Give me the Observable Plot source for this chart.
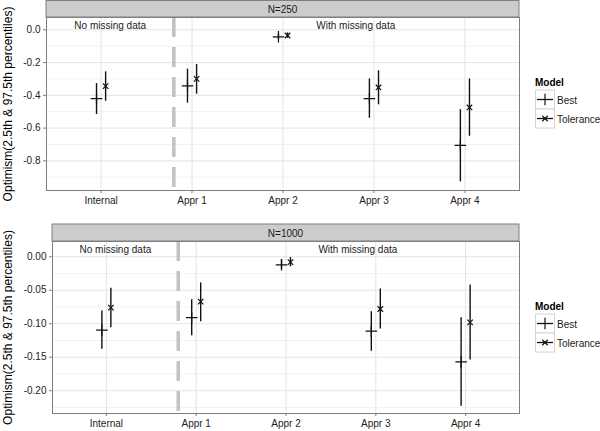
<!DOCTYPE html>
<html><head><meta charset="utf-8">
<script src="https://cdn.jsdelivr.net/npm/d3@7"></script>
<script src="https://cdn.jsdelivr.net/npm/@observablehq/plot@0.6"></script>
<style>
body{margin:0;background:#fff;font-family:"Liberation Sans",Arial,sans-serif;}
#chart{position:relative;width:600px;height:431px;overflow:hidden;}
#chart > svg{position:absolute;left:0;}
</style></head><body><div id="chart"></div>
<script>
// ---- data ----
const categories = ["Internal", "Appr 1", "Appr 2", "Appr 3", "Appr 4"];
const models = ["Best", "Tolerance"];
const yTitle = "Optimism(2.5th & 97.5th percentiles)";
const noteLabels = ["No missing data", "With missing data"];
const noteX = [1.1, 3.8];

const n250BestEst = [-0.420, -0.342, -0.043, -0.420, -0.706];
const n250BestLo  = [-0.517, -0.448, -0.061, -0.540, -0.928];
const n250BestHi  = [-0.328, -0.240, -0.025, -0.300, -0.487];
const n250TolEst  = [-0.344, -0.300, -0.035, -0.352, -0.474];
const n250TolLo   = [-0.436, -0.393, -0.052, -0.458, -0.650];
const n250TolHi   = [-0.257, -0.212, -0.019, -0.250, -0.300];
const n250Ticks = [-0.8, -0.6, -0.4, -0.2, 0.0];
const n250Minor = [-0.9, -0.7, -0.5, -0.3, -0.1];
const n250NoteY = 0.026;

const n1000BestEst = [-0.1096, -0.091, -0.012, -0.111, -0.157];
const n1000BestLo  = [-0.138, -0.118, -0.019, -0.141, -0.223];
const n1000BestHi  = [-0.081, -0.064, -0.0045, -0.082, -0.091];
const n1000TolEst  = [-0.076, -0.067, -0.008, -0.078, -0.098];
const n1000TolLo   = [-0.106, -0.097, -0.015, -0.108, -0.154];
const n1000TolHi   = [-0.047, -0.039, -0.001, -0.048, -0.042];
const n1000Ticks = [-0.20, -0.15, -0.10, -0.05, 0.00];
const n1000Minor = [-0.225, -0.175, -0.125, -0.075, -0.025];
const n1000NoteY = 0.010;

const dividerX = [1.8];

// ---- build tables ----
function rowsFor(est, lo, hi, model) {
  const off = model === "Best" ? -0.05 : 0.05;
  return categories.map((c, i) => ({category: c, model, pos: i + 1 + off, est: est[i], lo: lo[i], hi: hi[i]}));
}
const positions = categories.map((c, i) => i + 1);

function panel(o) {
  const rows = [...rowsFor(o.bestEst, o.bestLo, o.bestHi, "Best"), ...rowsFor(o.tolEst, o.tolLo, o.tolHi, "Tolerance")];
  const notes = noteLabels.map((t, i) => ({label: t, x: noteX[i], y: o.noteY}));
  const svg = Plot.plot({
    width: 600, height: o.height,
    marginTop: o.marginTop, marginBottom: o.marginBottom, marginLeft: o.marginLeft, marginRight: 81,
    style: {fontFamily: '"Liberation Sans", Arial, sans-serif', fontSize: "10px", background: "white", overflow: "visible"},
    x: {domain: [0.4, 5.6]},
    y: {domain: o.yDomain, label: null},
    marks: [
      Plot.ruleY(o.minor, {stroke: "#f2f2f2", strokeWidth: 1}),
      Plot.ruleY(o.ticks, {stroke: "#e3e3e3", strokeWidth: 1}),
      Plot.ruleX(positions, {stroke: "#e3e3e3", strokeWidth: 1}),
      Plot.ruleX(dividerX, {stroke: "#c2c2c2", strokeWidth: 3.5, strokeDasharray: "20,10"}),
      Plot.ruleX(rows, {x: "pos", y1: "lo", y2: "hi", stroke: "#111", strokeWidth: 1.4}),
      Plot.dot(rows.filter(d => d.model === "Best"), {x: "pos", y: "est", symbol: "plus", r: 3.8, stroke: "#111", strokeWidth: 1.2}),
      Plot.dot(rows.filter(d => d.model === "Tolerance"), {x: "pos", y: "est", symbol: "times", r: 2.6, stroke: "#111", strokeWidth: 1.2}),
      Plot.text(notes, {x: "x", y: "y", text: "label", fontSize: 10, fill: "#1a1a1a"}),
      Plot.frame({stroke: "#7f7f7f"}),
      Plot.axisX({ticks: positions, tickFormat: d => categories[d - 1], tickSize: 3, tickPadding: 3, stroke: "#7f7f7f", fill: "#222", label: null, fontSize: 10}),
      Plot.axisY({ticks: o.ticks, tickFormat: d => d.toFixed(o.digits), tickSize: 3, tickPadding: 3, stroke: "#7f7f7f", fill: "#222", label: null, fontSize: 10}),
      Plot.text([yTitle], {frameAnchor: "left", textAnchor: "middle", rotate: -90, dx: o.titleDx, fontSize: 12, fill: "#000"})
    ]
  });
  // facet strip
  const s = d3.select(svg);
  const x0 = o.marginLeft, x1 = 600 - 81;
  s.append("rect").attr("x", x0).attr("y", o.stripTop).attr("width", x1 - x0).attr("height", o.marginTop - o.stripTop)
    .attr("fill", "#cccccc").attr("stroke", "#7f7f7f").attr("stroke-width", 1);
  s.append("text").attr("x", (x0 + x1) / 2).attr("y", (o.stripTop + o.marginTop) / 2 + 0.5)
    .attr("text-anchor", "middle").attr("dominant-baseline", "central").attr("font-size", 10).attr("fill", "#1a1a1a").text(o.strip);
  return svg;
}

function legend() {
  const svg = d3.create("svg").attr("width", 70).attr("height", 60)
    .style("font-family", '"Liberation Sans", Arial, sans-serif').style("overflow", "visible");
  svg.append("text").attr("x", 2).attr("y", 7).attr("dominant-baseline", "central")
    .attr("font-size", 10).attr("font-weight", "bold").text("Model");
  const sym = {Best: d3.symbol(d3.symbolPlus, Math.PI * 3.8 * 3.8), Tolerance: d3.symbol(d3.symbolTimes, Math.PI * 2.6 * 2.6)};
  models.forEach((m, i) => {
    const y = 15 + i * 19;
    svg.append("rect").attr("x", 2.5).attr("y", y).attr("width", 19).attr("height", 19).attr("fill", "white").attr("stroke", "#d4d4d4");
    svg.append("line").attr("x1", 4).attr("x2", 20).attr("y1", y + 9.5).attr("y2", y + 9.5).attr("stroke", "#111").attr("stroke-width", 1.3);
    svg.append("path").attr("d", sym[m]()).attr("transform", `translate(12,${y + 9.5})`).attr("fill", "none").attr("stroke", "#111").attr("stroke-width", 1.2);
    svg.append("text").attr("x", 24).attr("y", y + 10).attr("dominant-baseline", "central").attr("font-size", 10).attr("fill", "#1a1a1a").text(m);
  });
  return svg.node();
}

const chartDiv = document.getElementById("chart");
const topPanel = panel({
  bestEst: n250BestEst, bestLo: n250BestLo, bestHi: n250BestHi,
  tolEst: n250TolEst, tolLo: n250TolLo, tolHi: n250TolHi,
  ticks: n250Ticks, minor: n250Minor, noteY: n250NoteY, digits: 1,
  yDomain: [-0.981, 0.075], height: 215, marginTop: 17, marginBottom: 25, marginLeft: 46,
  stripTop: 0.5, strip: "N=250", titleDx: -38
});
topPanel.style.top = "0px";
chartDiv.appendChild(topPanel);
const botPanel = panel({
  bestEst: n1000BestEst, bestLo: n1000BestLo, bestHi: n1000BestHi,
  tolEst: n1000TolEst, tolLo: n1000TolLo, tolHi: n1000TolHi,
  ticks: n1000Ticks, minor: n1000Minor, noteY: n1000NoteY, digits: 2,
  yDomain: [-0.234, 0.0228], height: 216, marginTop: 26, marginBottom: 18, marginLeft: 52,
  stripTop: 9, strip: "N=1000", titleDx: -44
});
botPanel.style.top = "215px";
chartDiv.appendChild(botPanel);
const l1 = legend(); l1.style.left = "533px"; l1.style.top = "75px"; chartDiv.appendChild(l1);
const l2 = legend(); l2.style.left = "533px"; l2.style.top = "299px"; chartDiv.appendChild(l2);
</script></body></html>
